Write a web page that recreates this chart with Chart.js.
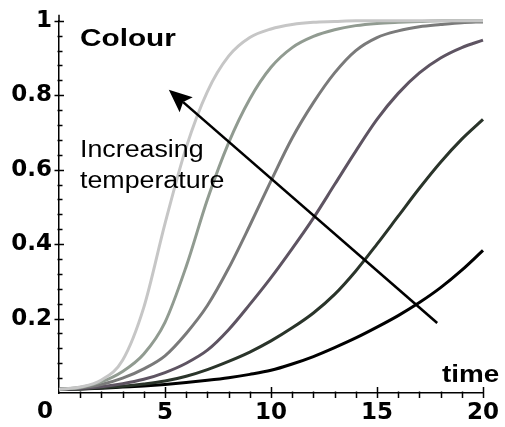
<!DOCTYPE html>
<html>
<head>
<meta charset="utf-8">
<title>Colour vs time</title>
<script src="https://cdn.jsdelivr.net/npm/chart.js@4/dist/chart.umd.min.js"></script>
<style>
  html, body { margin: 0; padding: 0; background: #fff; }
  #wrap { width: 505px; height: 427px; }
</style>
</head>
<body>
<div id="wrap"><canvas id="colour-chart" width="505" height="427"></canvas></div>
<script>
// time axis (x) and colour readings for each temperature, hottest first
const times = [0, 1, 2, 3, 4, 5, 6, 7, 8, 9, 10, 11, 12, 13, 14, 15, 16, 17, 18, 19, 20];
const colourT6 = [0.01, 0.016, 0.035, 0.088, 0.23, 0.455, 0.66, 0.81, 0.905, 0.955, 0.978, 0.99, 0.996, 0.998, 1, 1, 1, 1, 1, 1, 1];
const colourT5 = [0.01, 0.015, 0.03, 0.058, 0.105, 0.19, 0.34, 0.52, 0.672, 0.79, 0.875, 0.928, 0.958, 0.976, 0.987, 0.993, 0.996, 0.998, 1, 1, 1];
const colourT4 = [0.01, 0.014, 0.023, 0.04, 0.065, 0.1, 0.16, 0.235, 0.335, 0.45, 0.57, 0.685, 0.78, 0.86, 0.92, 0.955, 0.973, 0.984, 0.99, 0.995, 0.997];
const colourT3 = [0.01, 0.012, 0.017, 0.025, 0.037, 0.055, 0.08, 0.115, 0.17, 0.238, 0.31, 0.388, 0.47, 0.56, 0.65, 0.735, 0.805, 0.86, 0.9, 0.928, 0.948];
const colourT2 = [0.01, 0.011, 0.014, 0.018, 0.024, 0.032, 0.045, 0.063, 0.085, 0.11, 0.14, 0.175, 0.215, 0.265, 0.328, 0.4, 0.475, 0.55, 0.62, 0.682, 0.735];
const colourT1 = [0.01, 0.011, 0.013, 0.016, 0.019, 0.023, 0.028, 0.034, 0.041, 0.05, 0.061, 0.078, 0.098, 0.122, 0.148, 0.177, 0.208, 0.243, 0.283, 0.33, 0.383];

const yMajorStep = 0.2;
const yMinorStep = 0.04;
const xMajorStep = 5;
const xMinorStep = 1;

// arrow from low to high temperature, in (time, colour) units
const arrowTail = [17.84, 0.188];
const arrowTip = [5.18, 0.815];

const series = [
  { data: colourT6, color: '#c6c6c6' },
  { data: colourT5, color: '#919b91' },
  { data: colourT4, color: '#7a7a7a' },
  { data: colourT3, color: '#5e5462' },
  { data: colourT2, color: '#2a342a' },
  { data: colourT1, color: '#000000' }
];

const isMultiple = (v, step) => Math.abs(v / step - Math.round(v / step)) < 1e-6;

const tickFont = { family: '"DejaVu Sans", sans-serif', size: 23, weight: 'bold' };

// text drawn wider than the font's natural width
function wideText(ctx, text, x, y, font, sx) {
  ctx.save();
  ctx.translate(x, y);
  ctx.scale(sx, 1);
  ctx.font = font;
  ctx.fillStyle = '#000';
  ctx.textAlign = 'left';
  ctx.textBaseline = 'alphabetic';
  ctx.fillText(text, 0, 0);
  ctx.restore();
}

const axisMarks = {
  id: 'axisMarks',
  afterDraw(chart) {
    const { ctx, scales: { x, y } } = chart;
    const x0 = x.getPixelForValue(0);
    const y0 = y.getPixelForValue(0);
    ctx.save();
    ctx.strokeStyle = '#000';
    ctx.lineWidth = 1.5;
    ctx.beginPath();
    // short run of the y axis above 1
    ctx.moveTo(x0, y.getPixelForValue(1));
    ctx.lineTo(x0, y.getPixelForValue(1) - 6);
    y.ticks.forEach(t => {
      if (t.value === 0) return;
      const py = Math.round(y.getPixelForValue(t.value)) + 0.5;
      const major = isMultiple(t.value, yMajorStep);
      ctx.moveTo(x0 - (major ? 4.5 : 1.5), py);
      ctx.lineTo(x0 + (major ? 5 : 3.5), py);
    });
    x.ticks.forEach(t => {
      if (t.value === 0) return;
      const px = Math.round(x.getPixelForValue(t.value)) + 0.5;
      const major = isMultiple(t.value, xMajorStep);
      ctx.moveTo(px, y0 - (major ? 6 : 1.5));
      ctx.lineTo(px, y0 + 5);
    });
    ctx.stroke();

    // shared origin label
    ctx.font = 'bold 23px "DejaVu Sans", sans-serif';
    ctx.fillStyle = '#000';
    ctx.textAlign = 'right';
    ctx.textBaseline = 'alphabetic';
    ctx.fillText('0', x0 - 6, y0 + 25);
    ctx.restore();
  },
  afterDatasetsDraw(chart) {
    const { ctx, scales: { x, y } } = chart;
    const tx = x.getPixelForValue(arrowTail[0]);
    const ty = y.getPixelForValue(arrowTail[1]);
    const hx = x.getPixelForValue(arrowTip[0]);
    const hy = y.getPixelForValue(arrowTip[1]);
    const len = Math.hypot(hx - tx, hy - ty);
    const ux = (hx - tx) / len;
    const uy = (hy - ty) / len;
    const headLen = 23;
    const headHalf = 10;
    const bx = hx - ux * headLen;
    const by = hy - uy * headLen;

    ctx.save();
    ctx.strokeStyle = '#000';
    ctx.fillStyle = '#000';
    ctx.lineWidth = 2.6;
    ctx.beginPath();
    ctx.moveTo(tx, ty);
    ctx.lineTo(bx + ux * 4, by + uy * 4);
    ctx.stroke();
    ctx.beginPath();
    ctx.moveTo(hx, hy);
    ctx.lineTo(bx - uy * headHalf, by + ux * headHalf);
    ctx.lineTo(bx + ux * 4, by + uy * 4);
    ctx.lineTo(bx + uy * headHalf, by - ux * headHalf);
    ctx.closePath();
    ctx.fill();
    ctx.restore();

    // axis names and the note beside the arrow
    const left = x.getPixelForValue(0.99);
    wideText(ctx, 'Colour', left, y.getPixelForValue(0.933), 'bold 24px "Liberation Sans", Arial, sans-serif', 1.24);
    wideText(ctx, 'time', x.getPixelForValue(18.07), y.getPixelForValue(0.0295), 'bold 24px "Liberation Sans", Arial, sans-serif', 1.16);
    wideText(ctx, 'Increasing', left, y.getPixelForValue(0.633), '23.5px "Liberation Sans", Arial, sans-serif', 1.14);
    wideText(ctx, 'temperature', left, y.getPixelForValue(0.55), '23.5px "Liberation Sans", Arial, sans-serif', 1.14);
  }
};

new Chart(document.getElementById('colour-chart'), {
  type: 'line',
  data: {
    datasets: series.map(s => ({
      data: times.map((t, i) => ({ x: t, y: s.data[i] })),
      borderColor: s.color,
      borderWidth: 3,
      pointRadius: 0,
      fill: false,
      cubicInterpolationMode: 'monotone',
      clip: 6
    }))
  },
  options: {
    responsive: false,
    animation: false,
    devicePixelRatio: 1,
    layout: { padding: { left: 0, right: 21, top: 20, bottom: 0 } },
    plugins: { legend: { display: false }, tooltip: { enabled: false } },
    scales: {
      x: {
        type: 'linear',
        min: 0,
        max: 20,
        afterFit: s => { s.height = 34; },
        grid: { display: false, drawTicks: false },
        border: { display: true, color: '#000', width: 1.5 },
        ticks: {
          stepSize: xMinorStep,
          autoSkip: false,
          maxRotation: 0,
          padding: 6,
          color: '#000',
          font: tickFont,
          callback: v => (v !== 0 && isMultiple(v, xMajorStep)) ? String(v) : ''
        }
      },
      y: {
        type: 'linear',
        min: 0,
        max: 1,
        afterFit: s => { s.width = 59; },
        grid: { display: false, drawTicks: false },
        border: { display: true, color: '#000', width: 1.5 },
        ticks: {
          stepSize: yMinorStep,
          autoSkip: false,
          padding: 7,
          color: '#000',
          font: tickFont,
          callback: v => (v !== 0 && isMultiple(v, yMajorStep)) ? String(Math.round(v * 10) / 10) : ''
        }
      }
    }
  },
  plugins: [axisMarks]
});
</script>
</body>
</html>
